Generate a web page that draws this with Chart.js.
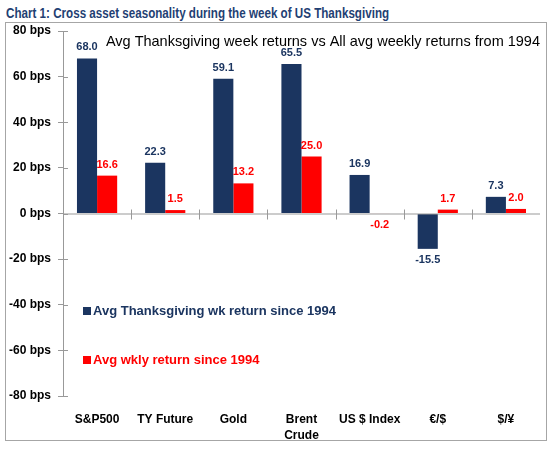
<!DOCTYPE html>
<html>
<head>
<meta charset="utf-8">
<script src="https://cdn.jsdelivr.net/npm/chart.js@4.4.0/dist/chart.umd.min.js"></script>
<style>
  body { margin: 0; background: #fff; }
  #wrap { position: relative; width: 550px; height: 449px; }
  #title {
    position: absolute; left: 6px; top: 4px;
    font: bold 15px "Liberation Sans", Arial, sans-serif;
    color: #1F3F73; white-space: nowrap;
    transform: scaleX(0.775); transform-origin: left top;
  }
  #frame {
    position: absolute; left: 5px; top: 22px; width: 540px; height: 417px;
    border: 1px solid #a6a6a6;
  }
  canvas { position: absolute; left: 0; top: 0; }
</style>
</head>
<body>
<div id="wrap">
  <div id="title">Chart 1: Cross asset seasonality during the week of US Thanksgiving</div>
  <div id="frame"></div>
  <canvas id="myChart" width="550" height="449"></canvas>
</div>
<script>
const categories = ["S&P500", "TY Future", "Gold", ["Brent", "Crude"], "US $ Index", "€/$", "$/¥"];
const thanksgivingReturns = [68.0, 22.3, 59.1, 65.5, 16.9, -15.5, 7.3];
const avgWeeklyReturns = [16.6, 1.5, 13.2, 25.0, -0.2, 1.7, 2.0];
const yTicks = [-80, -60, -40, -20, 0, 20, 40, 60, 80];

const NAVY = "#1B3560";
const RED = "#FF0000";
const FONT = '"Liberation Sans", Arial, sans-serif';

const decorations = {
  id: "decorations",
  afterDraw(chart) {
    const ctx = chart.ctx;
    const x = chart.scales.x;
    const y = chart.scales.y;
    const area = chart.chartArea;
    const y0 = y.getPixelForValue(0);
    ctx.save();
    ctx.strokeStyle = "#999";
    ctx.lineWidth = 1;
    // zero line
    ctx.beginPath();
    ctx.moveTo(area.left, y0 + 0.5);
    ctx.lineTo(area.right, y0 + 0.5);
    ctx.stroke();
    // category ticks
    for (let i = 1; i < categories.length; i++) {
      const px = Math.round((x.getPixelForValue(i - 1) + x.getPixelForValue(i)) / 2) + 0.5;
      ctx.beginPath();
      ctx.moveTo(px, y0 - 4);
      ctx.lineTo(px, y0 + 6);
      ctx.stroke();
    }
    // y ticks on right side of axis
    yTicks.forEach((v) => {
      const py = Math.round(y.getPixelForValue(v)) + 0.5;
      ctx.beginPath();
      ctx.moveTo(area.left, py);
      ctx.lineTo(area.left + 5, py);
      ctx.stroke();
    });

    // value labels
    ctx.font = "bold 11px " + FONT;
    ctx.textAlign = "center";
    ctx.textBaseline = "middle";
    chart.data.datasets.forEach((ds, di) => {
      const meta = chart.getDatasetMeta(di);
      ctx.fillStyle = ds.backgroundColor;
      meta.data.forEach((bar, i) => {
        const v = ds.data[i];
        const py = v >= 0 ? bar.y - 11 : bar.y + 11;
        ctx.fillText(v.toFixed(1), bar.x, py);
      });
    });

    // inner heading
    ctx.font = "14.5px " + FONT;
    ctx.fillStyle = "#000";
    ctx.textAlign = "right";
    ctx.fillText("Avg Thanksgiving week returns vs All avg weekly returns from 1994", 540, 42);

    // legend
    ctx.font = "bold 13px " + FONT;
    ctx.textAlign = "left";
    const legend = [
      { text: "Avg Thanksgiving wk return since 1994", color: NAVY, y: 311 },
      { text: "Avg wkly return since 1994", color: RED, y: 360 },
    ];
    legend.forEach((item) => {
      ctx.fillStyle = item.color;
      ctx.fillRect(83, item.y - 4, 8, 8);
      ctx.fillText(item.text, 93, item.y);
    });
    ctx.restore();
  },
};

new Chart(document.getElementById("myChart"), {
  type: "bar",
  data: {
    labels: categories,
    datasets: [
      {
        label: "Avg Thanksgiving wk return since 1994",
        data: thanksgivingReturns,
        backgroundColor: NAVY,
      },
      {
        label: "Avg wkly return since 1994",
        data: avgWeeklyReturns,
        backgroundColor: RED,
      },
    ],
  },
  options: {
    responsive: false,
    animation: false,
    layout: { padding: { top: 31, right: 10, bottom: 0, left: 0 } },
    datasets: { bar: { categoryPercentage: 0.59, barPercentage: 1 } },
    plugins: {
      legend: { display: false },
      tooltip: { enabled: false },
    },
    scales: {
      x: {
        grid: { display: false },
        border: { display: false },
        ticks: {
          color: "#000",
          padding: 8,
          autoSkip: false,
          maxRotation: 0,
          font: { family: FONT, size: 12, weight: "bold", lineHeight: 1.3 },
        },
        afterFit(scale) { scale.height = 53; },
      },
      y: {
        min: -80,
        max: 80,
        afterBuildTicks(scale) { scale.ticks = yTicks.map((v) => ({ value: v })); },
        grid: { drawOnChartArea: false, tickLength: 5, color: "#999" },
        border: { display: true, color: "#999" },
        ticks: {
          color: "#000",
          padding: 7,
          font: { family: FONT, size: 12, weight: "bold" },
          callback: (v) => v + " bps",
        },
        afterFit(scale) { scale.width = 63; },
      },
    },
  },
  plugins: [decorations],
});
</script>
</body>
</html>
